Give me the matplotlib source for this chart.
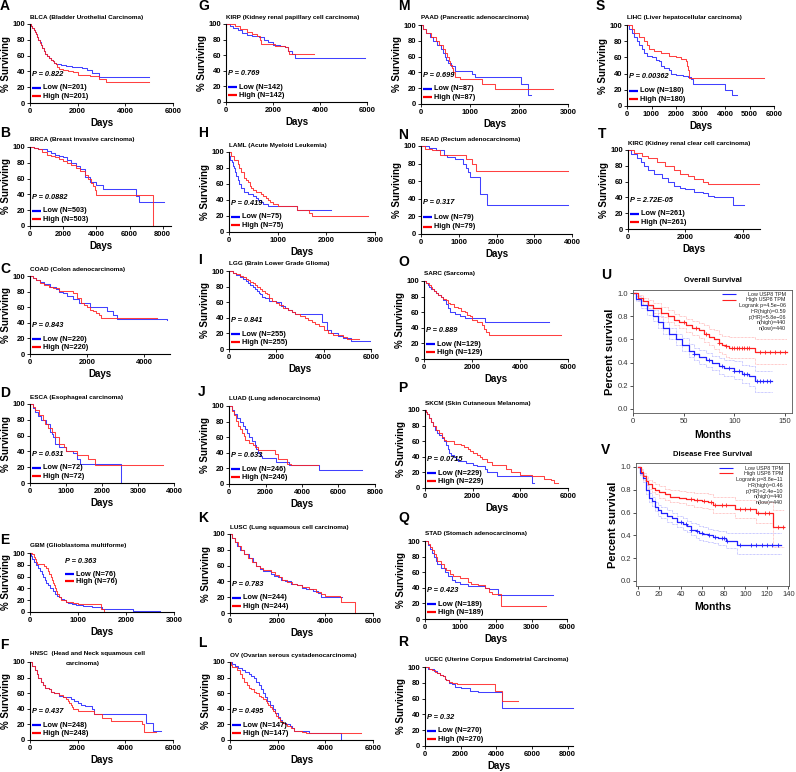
import matplotlib
matplotlib.use('Agg')
import matplotlib.pyplot as plt
import numpy as np

plt.rcParams['font.family'] = ['Liberation Sans', 'DejaVu Sans']

# ---------------- data (days, % surviving) ----------------
A_LOW_T = [0, 50, 100, 150, 200, 250, 300, 350, 400, 450, 500, 575, 650, 725, 800, 875, 950, 1025, 1100, 1300, 1500, 1750, 2000, 2200, 2400, 2600, 2900, 5000]
A_LOW_S = [100, 97, 95, 92, 90, 87, 84, 80, 77, 73, 70, 66, 62, 59, 57, 55, 53, 51, 49, 48, 47, 46, 45, 44, 42, 38, 33, 33]
A_HIGH_T = [0, 50, 100, 150, 200, 250, 300, 350, 400, 450, 500, 575, 650, 725, 800, 875, 950, 1025, 1100, 1150, 1200, 1400, 1600, 1800, 2000, 2250, 2500, 2900, 3200, 5000]
A_HIGH_S = [100, 97, 95, 92, 90, 87, 83, 80, 76, 73, 70, 66, 62, 59, 57, 55, 53, 51, 49, 46, 43, 42, 41, 39, 36, 35, 34, 31, 27, 27]

B_LOW_T = [0, 250, 500, 750, 1000, 1250, 1500, 1750, 2000, 2250, 2500, 2750, 3000, 3300, 3600, 4000, 4400, 6400, 6550, 8100]
B_LOW_S = [100, 99, 98, 97, 95, 92, 90, 88, 87, 84, 80, 76, 72, 62, 56, 52, 47, 38, 31, 31]
B_HIGH_T = [0, 250, 500, 750, 1000, 1250, 1500, 1750, 2000, 2250, 2500, 2750, 3000, 3300, 3500, 3650, 3800, 3900, 4000, 7400, 7400]
B_HIGH_S = [100, 99, 97, 94, 90, 89, 87, 85, 82, 80, 77, 74, 70, 65, 60, 55, 50, 45, 39, 39, 0]

C_LOW_T = [0, 100, 200, 350, 500, 700, 900, 1000, 1150, 1300, 1500, 1700, 2100, 2700, 2900, 3050, 4800]
C_LOW_S = [100, 97, 95, 92, 90, 86, 83, 80, 78, 75, 70, 65, 60, 55, 50, 45, 44]
C_HIGH_T = [0, 100, 200, 350, 500, 650, 800, 1000, 1500, 1650, 1800, 1900, 2000, 2100, 2200, 2300, 2400, 2500, 4450]
C_HIGH_S = [100, 97, 95, 91, 88, 86, 84, 81, 78, 72, 66, 63, 60, 57, 55, 52, 50, 46, 46]

D_LOW_T = [0, 75, 150, 225, 300, 450, 550, 600, 650, 700, 800, 1000, 1200, 1300, 1400, 2520, 2520]
D_LOW_S = [100, 95, 90, 85, 80, 75, 65, 62, 58, 50, 45, 40, 38, 30, 24, 24, 0]
D_HIGH_T = [0, 75, 150, 250, 350, 425, 500, 600, 700, 800, 950, 1000, 1300, 1600, 1800, 3700]
D_HIGH_S = [100, 96, 92, 86, 80, 75, 70, 65, 58, 50, 45, 40, 35, 30, 23, 23]

E_LOW_T = [0, 25, 50, 85, 120, 160, 200, 240, 280, 310, 340, 380, 420, 470, 520, 560, 600, 650, 700, 750, 800, 870, 950, 1100, 1300, 1500, 2150, 2700]
E_LOW_S = [100, 95, 90, 85, 80, 75, 70, 65, 60, 55, 50, 45, 40, 35, 30, 27, 25, 22, 20, 17, 15, 13, 12, 10, 8, 5, 2, 2]
E_HIGH_T = [0, 50, 75, 100, 125, 150, 300, 340, 380, 405, 430, 455, 480, 505, 530, 550, 570, 610, 650, 750, 900, 1000, 1480, 1550]
E_HIGH_S = [100, 98, 94, 90, 85, 81, 78, 74, 70, 65, 60, 55, 50, 45, 40, 35, 30, 25, 20, 17, 15, 13, 5, 2]

F_LOW_T = [0, 100, 200, 275, 350, 450, 550, 650, 800, 900, 1000, 1200, 1400, 1700, 1850, 2000, 2150, 2300, 2600, 2700, 4850, 5150, 5500]
F_LOW_S = [100, 95, 90, 85, 80, 75, 70, 67, 65, 62, 60, 57, 55, 52, 50, 48, 45, 43, 40, 33, 22, 12, 12]
F_HIGH_T = [0, 100, 200, 275, 350, 450, 550, 650, 800, 900, 1000, 1200, 1400, 1500, 1600, 1650, 1700, 1750, 1800, 2000, 2700, 3000, 3400, 4700, 4800, 5300]
F_HIGH_S = [100, 95, 90, 85, 80, 75, 70, 67, 65, 62, 60, 58, 55, 52, 50, 47, 45, 42, 40, 37, 33, 28, 24, 20, 10, 10]

G_LOW_T = [0, 150, 300, 500, 700, 900, 1100, 1400, 1600, 1800, 2000, 2300, 2500, 2650, 2800, 2950, 5900]
G_LOW_S = [100, 98, 95, 92, 88, 86, 85, 83, 80, 77, 73, 72, 70, 65, 62, 57, 57]
G_HIGH_T = [0, 300, 400, 600, 900, 1100, 1300, 1450, 1500, 2100, 2500, 2650, 2700, 3750]
G_HIGH_S = [100, 100, 97, 93, 90, 87, 85, 80, 74, 72, 70, 65, 62, 62]

H_LOW_T = [0, 10, 20, 60, 80, 100, 125, 150, 175, 200, 250, 300, 400, 500, 550, 600, 650, 700, 800, 900, 1400, 2100]
H_LOW_S = [100, 95, 90, 87, 83, 80, 75, 70, 65, 60, 55, 50, 47, 45, 42, 40, 37, 35, 33, 32, 28, 27]
H_HIGH_T = [0, 50, 100, 180, 215, 250, 300, 350, 400, 425, 450, 500, 550, 650, 700, 750, 800, 850, 900, 1000, 1400, 1600, 1650, 1700, 2850]
H_HIGH_S = [100, 95, 90, 85, 80, 75, 67, 65, 62, 58, 55, 52, 50, 47, 45, 42, 40, 37, 35, 32, 28, 27, 24, 20, 20]

I_LOW_T = [0, 150, 300, 450, 600, 700, 800, 900, 1000, 1100, 1200, 1250, 1300, 1400, 1500, 1700, 2000, 2200, 2350, 2500, 2650, 2800, 3950, 4150, 4300, 4600, 4800, 5150, 5950]
I_LOW_S = [100, 98, 95, 92, 90, 87, 85, 82, 80, 77, 75, 72, 70, 67, 65, 62, 60, 55, 52, 50, 47, 45, 35, 25, 20, 17, 14, 10, 10]
I_HIGH_T = [0, 150, 300, 450, 600, 700, 800, 900, 1000, 1100, 1200, 1300, 1400, 1500, 1600, 1700, 1800, 2000, 2100, 2300, 2500, 2650, 2800, 3000, 3200, 3350, 3500, 3650, 3800, 4000, 4200, 4400, 4800, 5000, 5500]
I_HIGH_S = [100, 98, 96, 94, 92, 90, 88, 86, 84, 82, 80, 77, 75, 72, 70, 66, 62, 59, 57, 53, 50, 47, 45, 42, 40, 37, 35, 32, 30, 25, 20, 18, 15, 13, 13]

J_LOW_T = [0, 150, 300, 450, 600, 750, 900, 1000, 1100, 1250, 1400, 1500, 1600, 1700, 1800, 2600, 3300, 4950, 7300]
J_LOW_S = [100, 95, 90, 85, 80, 75, 70, 65, 60, 55, 50, 45, 40, 36, 33, 28, 25, 18, 18]
J_HIGH_T = [0, 150, 300, 400, 500, 600, 700, 800, 900, 1100, 1300, 1450, 1600, 2500, 2700, 3200, 3400, 4900]
J_HIGH_S = [100, 94, 88, 81, 75, 70, 65, 61, 57, 53, 50, 47, 44, 38, 32, 26, 24, 24]

K_LOW_T = [0, 100, 200, 300, 400, 600, 800, 950, 1100, 1250, 1400, 1700, 1850, 2000, 2150, 2300, 2550, 2800, 3000, 3200, 3500, 3700, 3800, 4700]
K_LOW_S = [100, 95, 90, 85, 80, 75, 70, 65, 60, 56, 53, 50, 47, 45, 42, 40, 37, 35, 32, 30, 28, 25, 20, 20]
K_HIGH_T = [0, 100, 200, 325, 450, 600, 750, 925, 1100, 1250, 1400, 1700, 1900, 2050, 2200, 2400, 2600, 2800, 3000, 3300, 3600, 3800, 4000, 4600, 4650, 5250, 5250]
K_HIGH_S = [100, 95, 90, 85, 80, 75, 70, 65, 60, 57, 55, 52, 48, 45, 42, 39, 37, 35, 33, 30, 27, 24, 22, 20, 14, 14, 0]

L_LOW_T = [0, 100, 200, 350, 500, 650, 800, 900, 1000, 1100, 1200, 1300, 1400, 1475, 1550, 1675, 1800, 1900, 2000, 2100, 2200, 2350, 2500, 2600, 2700, 3300, 4650, 4650]
L_LOW_S = [100, 97, 95, 92, 90, 87, 85, 82, 80, 75, 70, 65, 60, 55, 50, 45, 40, 35, 30, 26, 22, 20, 18, 15, 12, 9, 9, 0]
L_HIGH_T = [0, 50, 100, 300, 400, 500, 600, 700, 800, 900, 1000, 1100, 1200, 1300, 1400, 1500, 1550, 1600, 1675, 1750, 1825, 1900, 1950, 2000, 2100, 2200, 2300, 2400, 2550, 2700, 3000, 3200, 5500]
L_HIGH_S = [100, 96, 93, 90, 85, 80, 75, 70, 67, 65, 62, 60, 57, 55, 52, 50, 47, 45, 42, 40, 37, 35, 31, 28, 25, 22, 20, 18, 15, 12, 10, 9, 9]

M_LOW_T = [0, 50, 100, 175, 250, 325, 400, 440, 480, 515, 550, 620, 700, 1050, 1100, 2050, 2180, 2250]
M_LOW_S = [100, 95, 90, 85, 80, 75, 70, 65, 60, 56, 52, 48, 42, 38, 34, 25, 12, 12]
M_HIGH_T = [0, 50, 100, 200, 300, 375, 450, 490, 530, 565, 600, 625, 650, 700, 800, 1250, 1500, 2700]
M_HIGH_S = [100, 95, 90, 85, 80, 75, 70, 65, 60, 55, 50, 45, 40, 34, 32, 25, 19, 19]

N_LOW_T = [0, 200, 400, 600, 700, 900, 1100, 1200, 1250, 1300, 1570, 1750, 3900]
N_LOW_S = [100, 98, 95, 90, 88, 85, 80, 75, 70, 65, 45, 33, 33]
N_HIGH_T = [0, 100, 300, 500, 1200, 1350, 1450, 3900]
N_HIGH_S = [100, 97, 95, 90, 85, 80, 72, 72]

O_LOW_T = [0, 75, 150, 225, 300, 400, 500, 600, 700, 800, 900, 1000, 1100, 1300, 1500, 1700, 2550, 5200]
O_LOW_S = [100, 97, 95, 92, 90, 87, 85, 82, 80, 75, 70, 65, 60, 58, 55, 52, 48, 48]
O_HIGH_T = [0, 100, 200, 275, 350, 425, 500, 600, 700, 800, 900, 1000, 1100, 1250, 1400, 1550, 1700, 1800, 1900, 2000, 2200, 2400, 2500, 2600, 2700, 5700]
O_HIGH_S = [100, 97, 95, 92, 90, 87, 85, 82, 80, 77, 75, 72, 70, 67, 65, 62, 60, 57, 55, 50, 47, 43, 38, 35, 31, 31]

P_LOW_T = [0, 50, 100, 175, 250, 325, 400, 500, 600, 700, 800, 900, 950, 1000, 1100, 1200, 1300, 1400, 1700, 2000, 2200, 2500, 2600, 3000, 4500, 4560]
P_LOW_S = [100, 97, 95, 90, 85, 80, 75, 71, 68, 64, 60, 55, 50, 45, 42, 40, 37, 35, 32, 30, 28, 25, 20, 16, 7, 7]
P_HIGH_T = [0, 50, 100, 175, 250, 350, 450, 575, 700, 800, 900, 1200, 1500, 1650, 1800, 1900, 2000, 2200, 2300, 2400, 2600, 2800, 3400, 3600, 4000, 4500, 5000, 5300, 5400, 5600]
P_HIGH_S = [100, 97, 95, 90, 85, 80, 75, 70, 65, 62, 60, 57, 55, 52, 50, 47, 45, 42, 40, 37, 33, 30, 25, 20, 17, 15, 12, 10, 6, 6]

Q_LOW_T = [0, 75, 150, 200, 250, 300, 350, 450, 550, 650, 750, 850, 1000, 1200, 1700, 1800, 2050, 3600]
Q_LOW_S = [100, 95, 90, 85, 80, 75, 70, 65, 60, 55, 50, 47, 45, 42, 40, 38, 31, 31]
Q_HIGH_T = [0, 75, 150, 200, 250, 300, 350, 450, 525, 600, 700, 800, 1000, 1200, 1300, 1500, 1700, 1800, 1900, 2150, 3400]
Q_HIGH_S = [100, 96, 92, 88, 83, 79, 75, 70, 66, 63, 58, 55, 52, 48, 45, 43, 40, 35, 32, 17, 17]

R_LOW_T = [0, 150, 300, 500, 700, 850, 1000, 1100, 1200, 1350, 1500, 1700, 2000, 2500, 3000, 4300, 8300]
R_LOW_S = [100, 98, 97, 95, 93, 90, 88, 85, 83, 80, 78, 75, 73, 70, 68, 48, 48]
R_HIGH_T = [0, 200, 400, 550, 700, 850, 1000, 1100, 1200, 1350, 1500, 1800, 3950, 4300, 5200]
R_HIGH_S = [100, 98, 96, 94, 92, 90, 88, 85, 83, 81, 80, 78, 69, 57, 57]

S_LOW_T = [0, 100, 200, 300, 400, 500, 600, 700, 800, 1000, 1200, 1300, 1400, 1500, 1700, 1800, 2000, 2300, 2500, 2600, 2700, 4000, 4300, 4500]
S_LOW_S = [100, 95, 90, 85, 80, 75, 70, 65, 62, 60, 57, 55, 50, 47, 45, 40, 38, 37, 36, 33, 27, 20, 14, 14]
S_HIGH_T = [0, 200, 300, 500, 700, 800, 900, 1100, 1400, 1700, 2000, 2200, 2400, 2450, 2500, 2550, 5600]
S_HIGH_S = [100, 95, 90, 85, 80, 75, 70, 68, 65, 62, 60, 58, 55, 50, 45, 35, 35]

T_LOW_T = [0, 100, 300, 450, 550, 700, 900, 1200, 1400, 1600, 1800, 2000, 2300, 2600, 2800, 3000, 3650, 4050]
T_LOW_S = [100, 95, 90, 85, 80, 75, 70, 65, 60, 55, 52, 50, 47, 45, 42, 40, 31, 31]
T_HIGH_T = [0, 200, 500, 700, 1000, 1300, 1600, 1800, 2100, 2300, 2600, 2800, 4550]
T_HIGH_S = [100, 96, 93, 90, 85, 80, 75, 70, 67, 63, 60, 57, 57]

# GEPIA panels (months, probability)
U_LOW_T = [0, 3, 8, 14, 20, 25, 30, 36, 42, 48, 55, 60, 65, 72, 78, 85, 90, 100, 108, 115, 120, 137]
U_LOW_S = [1.0, 0.95, 0.9, 0.85, 0.8, 0.75, 0.7, 0.65, 0.6, 0.55, 0.5, 0.47, 0.45, 0.42, 0.4, 0.37, 0.35, 0.33, 0.3, 0.28, 0.24, 0.24]
U_LOW_LO = [1.0, 0.93, 0.87, 0.81, 0.76, 0.7, 0.65, 0.6, 0.55, 0.5, 0.45, 0.42, 0.39, 0.36, 0.34, 0.3, 0.28, 0.26, 0.22, 0.2, 0.15, 0.15]
U_LOW_HI = [1.0, 0.97, 0.93, 0.89, 0.85, 0.8, 0.75, 0.7, 0.65, 0.61, 0.56, 0.53, 0.51, 0.48, 0.46, 0.44, 0.42, 0.41, 0.38, 0.37, 0.33, 0.33]
U_HIGH_T = [0, 5, 10, 15, 20, 28, 35, 40, 45, 52, 58, 65, 70, 75, 80, 85, 88, 92, 95, 120, 152]
U_HIGH_S = [1.0, 0.96, 0.93, 0.9, 0.87, 0.83, 0.8, 0.77, 0.75, 0.72, 0.7, 0.68, 0.65, 0.62, 0.6, 0.57, 0.55, 0.54, 0.53, 0.49, 0.49]
U_HIGH_LO = [1.0, 0.94, 0.9, 0.87, 0.83, 0.79, 0.75, 0.72, 0.7, 0.66, 0.64, 0.61, 0.58, 0.55, 0.52, 0.49, 0.47, 0.45, 0.44, 0.39, 0.39]
U_HIGH_HI = [1.0, 0.98, 0.96, 0.94, 0.91, 0.88, 0.85, 0.82, 0.8, 0.78, 0.76, 0.74, 0.72, 0.69, 0.68, 0.65, 0.63, 0.63, 0.62, 0.6, 0.6]
U_LOW_CENS = [60, 75, 88, 95, 100, 105, 110, 113, 122, 125, 128, 132, 135]
U_HIGH_CENS = [50, 62, 72, 85, 92, 98, 100, 103, 105, 108, 110, 113, 115, 125, 130, 135, 140, 145, 150]

V_LOW_T = [0, 2, 5, 8, 11, 13, 16, 19, 22, 27, 32, 37, 42, 46, 50, 54, 57, 61, 65, 70, 75, 82, 92, 133]
V_LOW_S = [1.0, 0.95, 0.9, 0.8, 0.73, 0.7, 0.65, 0.62, 0.6, 0.57, 0.55, 0.52, 0.5, 0.48, 0.45, 0.44, 0.42, 0.41, 0.4, 0.39, 0.38, 0.35, 0.32, 0.32]
V_LOW_LO = [1.0, 0.93, 0.87, 0.76, 0.69, 0.66, 0.61, 0.57, 0.55, 0.52, 0.5, 0.47, 0.45, 0.43, 0.4, 0.38, 0.36, 0.35, 0.34, 0.33, 0.32, 0.29, 0.24, 0.24]
V_LOW_HI = [1.0, 0.97, 0.93, 0.84, 0.77, 0.74, 0.69, 0.67, 0.65, 0.62, 0.6, 0.57, 0.55, 0.53, 0.51, 0.5, 0.48, 0.47, 0.46, 0.45, 0.44, 0.42, 0.42, 0.42]
V_HIGH_T = [0, 3, 5, 8, 10, 13, 16, 20, 25, 30, 38, 45, 52, 60, 65, 70, 85, 90, 108, 110, 126, 136]
V_HIGH_S = [1.0, 0.96, 0.92, 0.88, 0.85, 0.82, 0.8, 0.78, 0.76, 0.74, 0.73, 0.72, 0.71, 0.7, 0.69, 0.67, 0.67, 0.63, 0.63, 0.6, 0.47, 0.47]
V_HIGH_LO = [1.0, 0.94, 0.89, 0.85, 0.81, 0.78, 0.76, 0.73, 0.71, 0.69, 0.68, 0.67, 0.65, 0.64, 0.63, 0.6, 0.6, 0.55, 0.55, 0.51, 0.3, 0.3]
V_HIGH_HI = [1.0, 0.98, 0.95, 0.92, 0.89, 0.87, 0.85, 0.83, 0.81, 0.8, 0.79, 0.78, 0.77, 0.77, 0.76, 0.74, 0.74, 0.71, 0.71, 0.69, 0.62, 0.62]
V_LOW_CENS = [40, 45, 50, 55, 60, 66, 72, 78, 80, 83, 95, 105, 110, 115, 120, 125, 130]
V_HIGH_CENS = [50, 55, 62, 68, 72, 78, 82, 95, 100, 104, 112, 118, 122, 130, 135]

# ---------------- panel text ----------------
LETTERS = list('ABCDEFGHIJKLMNOPQRST')
TITLES = ['BLCA (Bladder Urothelial Carcinoma)', 'BRCA (Breast invasive carcinoma)',
          'COAD (Colon adenocarcinoma)', 'ESCA (Esophageal carcinoma)',
          'GBM (Glioblastoma multiforme)', 'HNSC  (Head and Neck squamous cell',
          'KIRP (Kidney renal papillary cell carcinoma)', 'LAML (Acute Myeloid Leukemia)',
          'LGG (Brain Lower Grade Glioma)', 'LUAD (Lung adenocarcinoma)',
          'LUSC (Lung squamous cell carcinoma)', 'OV (Ovarian serous cystadenocarcinoma)',
          'PAAD (Pancreatic adenocarcinoma)', 'READ (Rectum adenocarcinoma)',
          'SARC (Sarcoma)', 'SKCM (Skin Cutaneous Melanoma)',
          'STAD (Stomach adenocarcinoma)', 'UCEC (Uterine Corpus Endometrial Carcinoma)',
          'LIHC (Liver hepatocellular carcinoma)', 'KIRC (Kidney renal clear cell carcinoma)']
N_PAT = [201, 503, 220, 72, 76, 248, 142, 75, 255, 246, 244, 147, 87, 79, 129, 229, 189, 270, 180, 261]
P_VALS = ['0.822', '0.0882', '0.843', '0.631', '0.363', '0.437', '0.769', '0.419', '0.841', '0.633',
          '0.783', '0.495', '0.699', '0.317', '0.889', '0.0715', '0.423', '0.32', '0.00362', '2.72E-05']
XTICKS = [[0, 2000, 4000, 6000], [0, 2000, 4000, 6000, 8000], [0, 2000, 4000],
          [0, 1000, 2000, 3000, 4000], [0, 1000, 2000, 3000], [0, 2000, 4000, 6000],
          [0, 2000, 4000, 6000], [0, 1000, 2000, 3000], [0, 2000, 4000, 6000],
          [0, 2000, 4000, 6000, 8000], [0, 2000, 4000, 6000], [0, 2000, 4000, 6000],
          [0, 1000, 2000, 3000], [0, 1000, 2000, 3000, 4000], [0, 2000, 4000, 6000],
          [0, 2000, 4000, 6000], [0, 1000, 2000, 3000, 4000], [0, 2000, 4000, 6000, 8000],
          [0, 1000, 2000, 3000, 4000, 5000, 6000], [0, 2000, 4000]]
Q_TICKLABELS = ['0', '1000', '2000', '3000', '6000']
XMAX = [6000, 8500, 4900, 4000, 3000, 6000, 6000, 3000, 6000, 8000, 6000, 6000,
        3000, 4000, 6000, 6000, 4000, 8300, 6000, 4600]
SERIES = [(A_LOW_T, A_LOW_S, A_HIGH_T, A_HIGH_S), (B_LOW_T, B_LOW_S, B_HIGH_T, B_HIGH_S),
          (C_LOW_T, C_LOW_S, C_HIGH_T, C_HIGH_S), (D_LOW_T, D_LOW_S, D_HIGH_T, D_HIGH_S),
          (E_LOW_T, E_LOW_S, E_HIGH_T, E_HIGH_S), (F_LOW_T, F_LOW_S, F_HIGH_T, F_HIGH_S),
          (G_LOW_T, G_LOW_S, G_HIGH_T, G_HIGH_S), (H_LOW_T, H_LOW_S, H_HIGH_T, H_HIGH_S),
          (I_LOW_T, I_LOW_S, I_HIGH_T, I_HIGH_S), (J_LOW_T, J_LOW_S, J_HIGH_T, J_HIGH_S),
          (K_LOW_T, K_LOW_S, K_HIGH_T, K_HIGH_S), (L_LOW_T, L_LOW_S, L_HIGH_T, L_HIGH_S),
          (M_LOW_T, M_LOW_S, M_HIGH_T, M_HIGH_S), (N_LOW_T, N_LOW_S, N_HIGH_T, N_HIGH_S),
          (O_LOW_T, O_LOW_S, O_HIGH_T, O_HIGH_S), (P_LOW_T, P_LOW_S, P_HIGH_T, P_HIGH_S),
          (Q_LOW_T, Q_LOW_S, Q_HIGH_T, Q_HIGH_S), (R_LOW_T, R_LOW_S, R_HIGH_T, R_HIGH_S),
          (S_LOW_T, S_LOW_S, S_HIGH_T, S_HIGH_S), (T_LOW_T, T_LOW_S, T_HIGH_T, T_HIGH_S)]

# ---------------- layout (pixels: left, top, right, bottom) ----------------
BOXES = [(30, 24, 173, 103), (30, 147, 171, 226), (30, 276, 170, 354), (30, 404, 174, 483),
         (30, 553, 174, 612), (30, 662, 173, 740),
         (226, 24, 367, 102), (229, 152, 375, 232), (229, 271, 371, 349), (229, 406, 375, 484),
         (230, 534, 373, 613), (230, 662, 373, 740),
         (421, 25, 568, 104), (421, 146, 572, 234), (424, 281, 568, 359), (425, 410, 568, 488),
         (425, 541, 567, 619), (425, 667, 573, 746),
         (627, 25, 774, 106), (628, 150, 760, 229)]
LETTER_XY = [(0, 6), (0, 133), (0, 269), (0, 393), (0, 540), (0, 645),
             (198, 6), (198, 133), (198, 260), (198, 392), (198, 518), (198, 643),
             (398, 6), (398, 135), (398, 262), (398, 388), (398, 518), (398, 642),
             (596, 6), (598, 134)]

W, H = 796, 772
fig = plt.figure(figsize=(W / 100, H / 100), dpi=100)
BLUE = '#1f1fff'
RED = '#ff2020'


def px_ax(l, t, r, b):
    return fig.add_axes([l / W, 1 - b / H, (r - l) / W, (b - t) / H])


def ftext(x, y, s, **kw):
    fig.text(x / W, 1 - y / H, s, **kw)


def fline(x0, x1, y, color, lw=1.6):
    fig.add_artist(plt.Line2D([x0 / W, x1 / W], [1 - y / H, 1 - y / H], color=color, lw=lw,
                              transform=fig.transFigure, solid_capstyle='butt'))


for i in range(20):
    l, t, r, b = BOXES[i]
    ax = px_ax(l, t, r, b)
    lt, ls, ht, hs = SERIES[i]
    ax.step(lt, ls, where='post', color=BLUE, lw=0.75, clip_on=False, alpha=0.85)
    ax.step(ht, hs, where='post', color=RED, lw=0.75, clip_on=False, alpha=0.85)
    ax.set_xlim(0, XMAX[i])
    ax.set_ylim(0, 100)
    ax.set_xticks(XTICKS[i])
    if LETTERS[i] == 'Q':
        ax.set_xticklabels(Q_TICKLABELS)
    ax.set_yticks([0, 20, 40, 60, 80, 100])
    for s in ['top', 'right']:
        ax.spines[s].set_visible(False)
    for s in ['left', 'bottom']:
        ax.spines[s].set_linewidth(0.8)
    ax.tick_params(length=2, width=0.6, pad=1.5, labelsize=5.5)
    for lab in ax.get_xticklabels() + ax.get_yticklabels():
        lab.set_fontweight('bold')
    ax.patch.set_alpha(0)

    # texts
    lx, ly = LETTER_XY[i]
    ftext(lx, ly, LETTERS[i], fontsize=10, fontweight='bold', va='center', ha='left')
    if LETTERS[i] == 'F':
        ftext(l, t - 8, TITLES[i], fontsize=4.6, fontweight='bold', va='center')
        ftext(l + 36, t + 2, 'carcinoma)', fontsize=4.6, fontweight='bold', va='center')
    else:
        ftext(l, t - 7, TITLES[i], fontsize=4.6, fontweight='bold', va='center')
    ftext(l - 24, (t + b) / 2, '% Surviving', fontsize=7, fontweight='bold', rotation=90,
          ha='center', va='center')
    ftext((l + r) / 2, b + 20, 'Days', fontsize=7, fontweight='bold', ha='center', va='center')

    hgt = b - t
    if LETTERS[i] == 'E':
        px0 = l + 35
        py, ylow, yhigh = b - 0.85 * hgt, b - 0.64 * hgt, b - 0.52 * hgt
    else:
        px0 = l + 2
        py, ylow, yhigh = b - 0.36 * hgt, b - 0.19 * hgt, b - 0.085 * hgt
    ftext(px0, py, 'P = ' + P_VALS[i], fontsize=5.3, fontweight='bold', fontstyle='italic',
          va='center')
    fline(px0, px0 + 9, ylow, '#0000ff')
    fline(px0, px0 + 9, yhigh, '#ff0000')
    ftext(px0 + 11, ylow, 'Low (N=%d)' % N_PAT[i], fontsize=5.3, fontweight='bold', va='center')
    ftext(px0 + 11, yhigh, 'High (N=%d)' % N_PAT[i], fontsize=5.3, fontweight='bold', va='center')


# ---------------- GEPIA panels ----------------
def step_at(t, s, x):
    idx = np.searchsorted(np.asarray(t), np.asarray(x), side='right') - 1
    return np.asarray(s)[idx]


def gepia(box, xlim, ylim, xticks, title, letter_xy, letter, title_y, months_y, ylab_x,
          lowt, lows, lowlo, lowhi, hight, highs, highlo, highhi, lowc, highc, stats, leg_y):
    l, t, r, b = box
    ax = px_ax(l, t, r, b)
    lb, lr = '#2020ff', '#ff2020'
    ax.step(lowt, lowlo, where='post', color='#9a9aff', lw=0.5, ls=(0, (1, 1)))
    ax.step(lowt, lowhi, where='post', color='#9a9aff', lw=0.5, ls=(0, (1, 1)))
    ax.step(hight, highlo, where='post', color='#ff9a9a', lw=0.5, ls=(0, (1, 1)))
    ax.step(hight, highhi, where='post', color='#ff9a9a', lw=0.5, ls=(0, (1, 1)))
    ax.step(lowt, lows, where='post', color=lb, lw=0.9)
    ax.step(hight, highs, where='post', color=lr, lw=0.9)
    ax.plot(lowc, step_at(lowt, lows, lowc), '+', color=lb, ms=3, mew=0.6)
    ax.plot(highc, step_at(hight, highs, highc), '+', color=lr, ms=3, mew=0.6)
    ax.set_xlim(*xlim)
    ax.set_ylim(*ylim)
    ax.set_xticks(xticks)
    ax.set_yticks([0, 0.2, 0.4, 0.6, 0.8, 1.0])
    ax.set_yticklabels(['0.0', '0.2', '0.4', '0.6', '0.8', '1.0'])
    ax.tick_params(length=2, width=0.6, pad=1.5, labelsize=5.5, colors='#333333')
    for s in ax.spines.values():
        s.set_linewidth(0.6)
        s.set_color('#555555')
    ftext(letter_xy[0], letter_xy[1], letter, fontsize=10, fontweight='bold', va='center')
    ftext((l + r) / 2, title_y, title, fontsize=5.5, fontweight='bold', ha='center', va='center')
    ftext((l + r) / 2, months_y, 'Months', fontsize=7.5, fontweight='bold', ha='center', va='center')
    ftext(ylab_x, (t + b) / 2, 'Percent survival', fontsize=8, fontweight='bold', rotation=90,
          ha='center', va='center')
    rx = r - 6
    fline(rx - 64, rx - 50, leg_y, lb, lw=0.8)
    fline(rx - 64, rx - 50, leg_y + 5.5, lr, lw=0.8)
    ftext(rx, leg_y, 'Low USP8 TPM', fontsize=3.9, ha='right', va='center', color='#222222')
    ftext(rx, leg_y + 5.5, 'High USP8 TPM', fontsize=3.9, ha='right', va='center', color='#222222')
    for k, s in enumerate(stats):
        ftext(rx, leg_y + 11.6 + 5.8 * k, s, fontsize=3.9, ha='right', va='center', color='#222222')


gepia((633, 290, 792, 413), (0, 157), (-0.035, 1.026), [0, 50, 100, 150], 'Overall Survival',
      (601, 275), 'U', 281, 435, 610,
      U_LOW_T, U_LOW_S, U_LOW_LO, U_LOW_HI, U_HIGH_T, U_HIGH_S, U_HIGH_LO, U_HIGH_HI,
      U_LOW_CENS, U_HIGH_CENS,
      ['Logrank p=4.5e\u221206', 'HR(high)=0.59', 'p(HR)=5.8e\u221206', 'n(high)=440', 'n(low)=440'],
      294)
gepia((636, 463, 789, 586), (-1.5, 140.5), (-0.044, 1.035), [0, 20, 40, 60, 80, 100, 120, 140],
      'Disease Free Survival', (601, 450), 'V', 454, 607, 613,
      V_LOW_T, V_LOW_S, V_LOW_LO, V_LOW_HI, V_HIGH_T, V_HIGH_S, V_HIGH_LO, V_HIGH_HI,
      V_LOW_CENS, V_HIGH_CENS,
      ['Logrank p=8.8e\u221211', 'HR(high)=0.46', 'p(HR)=2.4e\u221210', 'n(high)=440', 'n(low)=440'],
      468)

fig.savefig('out.png', dpi=100)
